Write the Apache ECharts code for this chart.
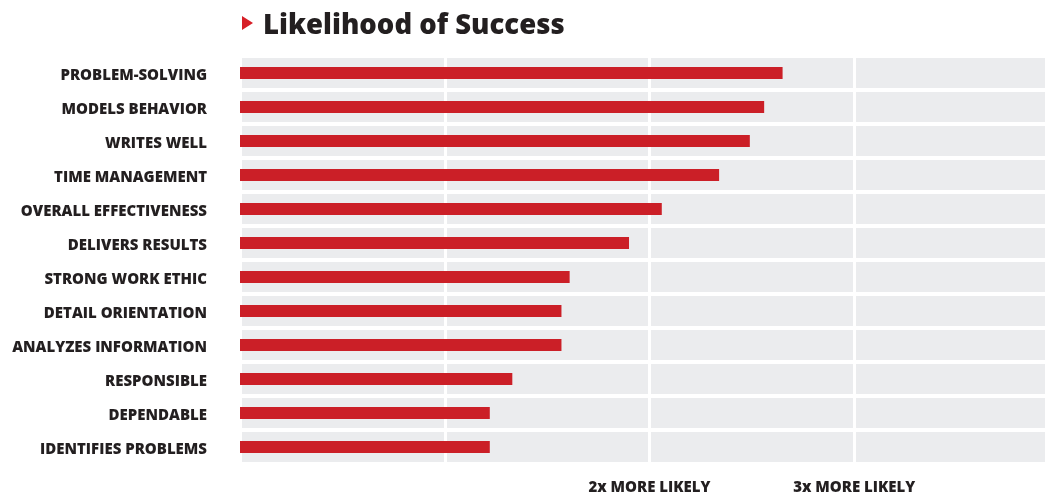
<!DOCTYPE html>
<html>
<head>
<meta charset="utf-8">
<script src="https://cdn.jsdelivr.net/npm/echarts@6/dist/echarts.min.js"></script>
<style>
html,body{margin:0;padding:0;background:#fff;overflow:hidden;width:1045px;height:495px;}
#chart{width:1065px;height:495px;}
</style>
</head>
<body>
<div id="chart"></div>
<script>
const titleText = 'Likelihood of Success';
const categories = [
  'PROBLEM-SOLVING',
  'MODELS BEHAVIOR',
  'WRITES WELL',
  'TIME MANAGEMENT',
  'OVERALL EFFECTIVENESS',
  'DELIVERS RESULTS',
  'STRONG WORK ETHIC',
  'DETAIL ORIENTATION',
  'ANALYZES INFORMATION',
  'RESPONSIBLE',
  'DEPENDABLE',
  'IDENTIFIES PROBLEMS'
];
const values = [2.65, 2.56, 2.49, 2.34, 2.06, 1.90, 1.61, 1.57, 1.57, 1.33, 1.22, 1.22];
const tickLabels = {2: '2x MORE LIKELY', 3: '3x MORE LIKELY'};

const chart = echarts.init(document.getElementById('chart'), null, {renderer: 'canvas', width: 1065, height: 495});
const textColor = '#231f20';
const labelFont = '"Open Sans", "Liberation Sans", sans-serif';

chart.setOption({
  backgroundColor: '#ffffff',
  animation: false,
  title: {
    text: titleText,
    left: 258,
    top: 7,
    textStyle: {fontFamily: labelFont, fontWeight: 800, fontSize: 27.5, color: textColor}
  },
  graphic: [{
    type: 'polygon',
    shape: {points: [[242, 16], [253, 23], [242, 30]]},
    style: {fill: '#d71f27'}
  }],
  grid: {
    left: 240, top: 56, width: 819, height: 408,
    show: true, backgroundColor: '#ebecee', borderWidth: 0
  },
  xAxis: {
    type: 'value', min: 0, max: 4, interval: 1,
    axisLine: {show: false}, axisTick: {show: false},
    splitLine: {show: true, lineStyle: {color: '#ffffff', width: 3}},
    axisLabel: {
      margin: 16,
      fontFamily: labelFont, fontWeight: 800, fontSize: 15, color: textColor,
      formatter: v => tickLabels[v] || ''
    }
  },
  yAxis: {
    type: 'category', data: categories, inverse: true,
    axisLine: {show: false}, axisTick: {show: false},
    splitLine: {show: true, lineStyle: {color: '#ffffff', width: 4}},
    axisLabel: {
      margin: 33,
      formatter: v => '{t|' + v + '}',
      rich: {
        t: {
          padding: [6, 0, 0, 0],
          fontFamily: labelFont, fontWeight: 800, fontSize: 15, color: textColor
        }
      },
      fontFamily: labelFont, fontWeight: 800, fontSize: 15, color: textColor
    }
  },
  series: [{
    type: 'bar', data: values, barWidth: 12,
    itemStyle: {color: '#cb1f27'}
  }]
});
</script>
</body>
</html>
